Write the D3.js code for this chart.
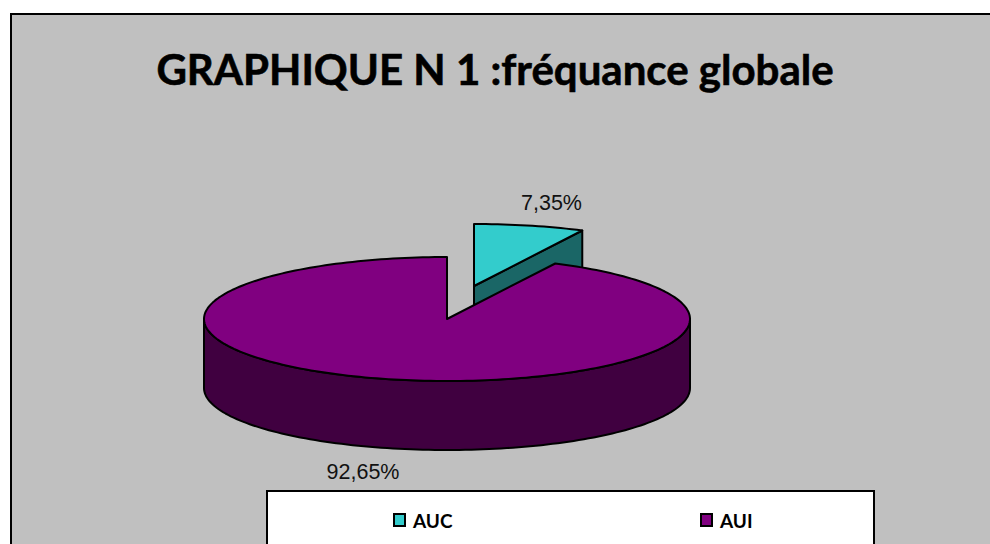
<!DOCTYPE html>
<html>
<head>
<meta charset="utf-8">
<script src="https://cdn.jsdelivr.net/npm/d3@7"></script>
<style>
  html, body { margin: 0; padding: 0; background: #fff; overflow: hidden; }
  svg { display: block; }
</style>
</head>
<body>
<svg id="chart" width="990" height="544"></svg>
<script>
// valeurs
var categories = ["AUC", "AUI"];
var values = [7.35, 92.65];
var labels = ["7,35%", "92,65%"];
var colors = ["#33CCCC", "#800080"];
var sideColors = ["#1A6666", "#400040"];

var svg = d3.select("#chart");

// fond et cadre, le cadre sort de l'image à droite et en bas
svg.append("rect")
    .attr("x", 11).attr("y", 14)
    .attr("width", 1000).attr("height", 560)
    .attr("fill", "#C0C0C0")
    .attr("stroke", "black")
    .attr("stroke-width", 2);

svg.append("text")
    .attr("x", 495).attr("y", 85)
    .attr("text-anchor", "middle")
    .attr("stroke", "black")
    .attr("stroke-width", 0.6)
    .style("font-family", "Lato")
    .style("font-weight", 700)
    .style("font-size", "42px")
    .text("GRAPHIQUE N 1 :fréquance globale");

// le camembert en perspective : une échelle par axe pour écraser le cercle
var x = d3.scaleLinear().domain([-1, 1]).range([204, 690]);
var y = d3.scaleLinear().domain([-1, 1]).range([257, 381]);
var depth = 69;
var offset = [27, -33];  // décalage de la part détachée AUC

var pie = d3.pie().sort(null).value(function(d) { return d; });
var slices = pie(values);

var line = d3.line();

function rim(a0, a1, dy) {
    var n = Math.max(2, Math.ceil((a1 - a0) * 40));
    return d3.range(n + 1).map(function(i) {
        var a = a0 + (a1 - a0) * i / n;
        return [x(Math.sin(a)), y(-Math.cos(a)) + dy];
    });
}

function shape(g, pts, fill) {
    g.append("path")
        .attr("d", line(pts) + "Z")
        .attr("fill", fill)
        .attr("stroke", "black")
        .attr("stroke-width", 2)
        .attr("stroke-linejoin", "round");
}

// AUC d'abord, AUI passe devant
var gAuc = svg.append("g").attr("transform", "translate(" + offset + ")");
var a = slices[0];
var p1 = rim(a.endAngle, a.endAngle, 0)[0];
var c = [x(0), y(0)];
shape(gAuc, [c, p1, [p1[0], p1[1] + depth], [c[0], c[1] + depth]], sideColors[0]);
shape(gAuc, [c].concat(rim(a.startAngle, a.endAngle, 0)), colors[0]);

var gAui = svg.append("g");
var b = slices[1];
// seul le bord avant (de 90° à 270°) se voit
var front = rim(Math.PI / 2, 3 * Math.PI / 2, 0);
var back = rim(Math.PI / 2, 3 * Math.PI / 2, depth).reverse();
shape(gAui, front.concat(back), sideColors[1]);
shape(gAui, [c].concat(rim(b.startAngle, b.endAngle, 0)), colors[1]);

svg.append("text")
    .attr("x", 551.5).attr("y", 210)
    .attr("text-anchor", "middle")
    .style("font-family", "Liberation Sans")
    .style("font-size", "21.5px")
    .style("fill", "#111")
    .text(labels[0]);

svg.append("text")
    .attr("x", 363).attr("y", 479)
    .attr("text-anchor", "middle")
    .style("font-family", "Liberation Sans")
    .style("font-size", "21.5px")
    .style("fill", "#111")
    .text(labels[1]);

// légende
svg.append("rect")
    .attr("x", 267).attr("y", 491)
    .attr("width", 607).attr("height", 80)
    .attr("fill", "white")
    .attr("stroke", "black")
    .attr("stroke-width", 2);

var legendX = d3.scalePoint().domain(categories).range([394, 701]);

var items = svg.selectAll("g.legend")
    .data(categories)
    .enter()
    .append("g")
    .attr("class", "legend")
    .attr("transform", function(d) { return "translate(" + legendX(d) + ",514)"; });

items.append("rect")
    .attr("width", 11).attr("height", 12)
    .attr("fill", function(d, i) { return colors[i]; })
    .attr("stroke", "black")
    .attr("stroke-width", 2);

items.append("text")
    .attr("x", 19).attr("y", 14)
    .style("font-family", "Lato")
    .style("font-weight", 700)
    .style("font-size", "19px")
    .text(function(d) { return d; });
</script>
</body>
</html>
